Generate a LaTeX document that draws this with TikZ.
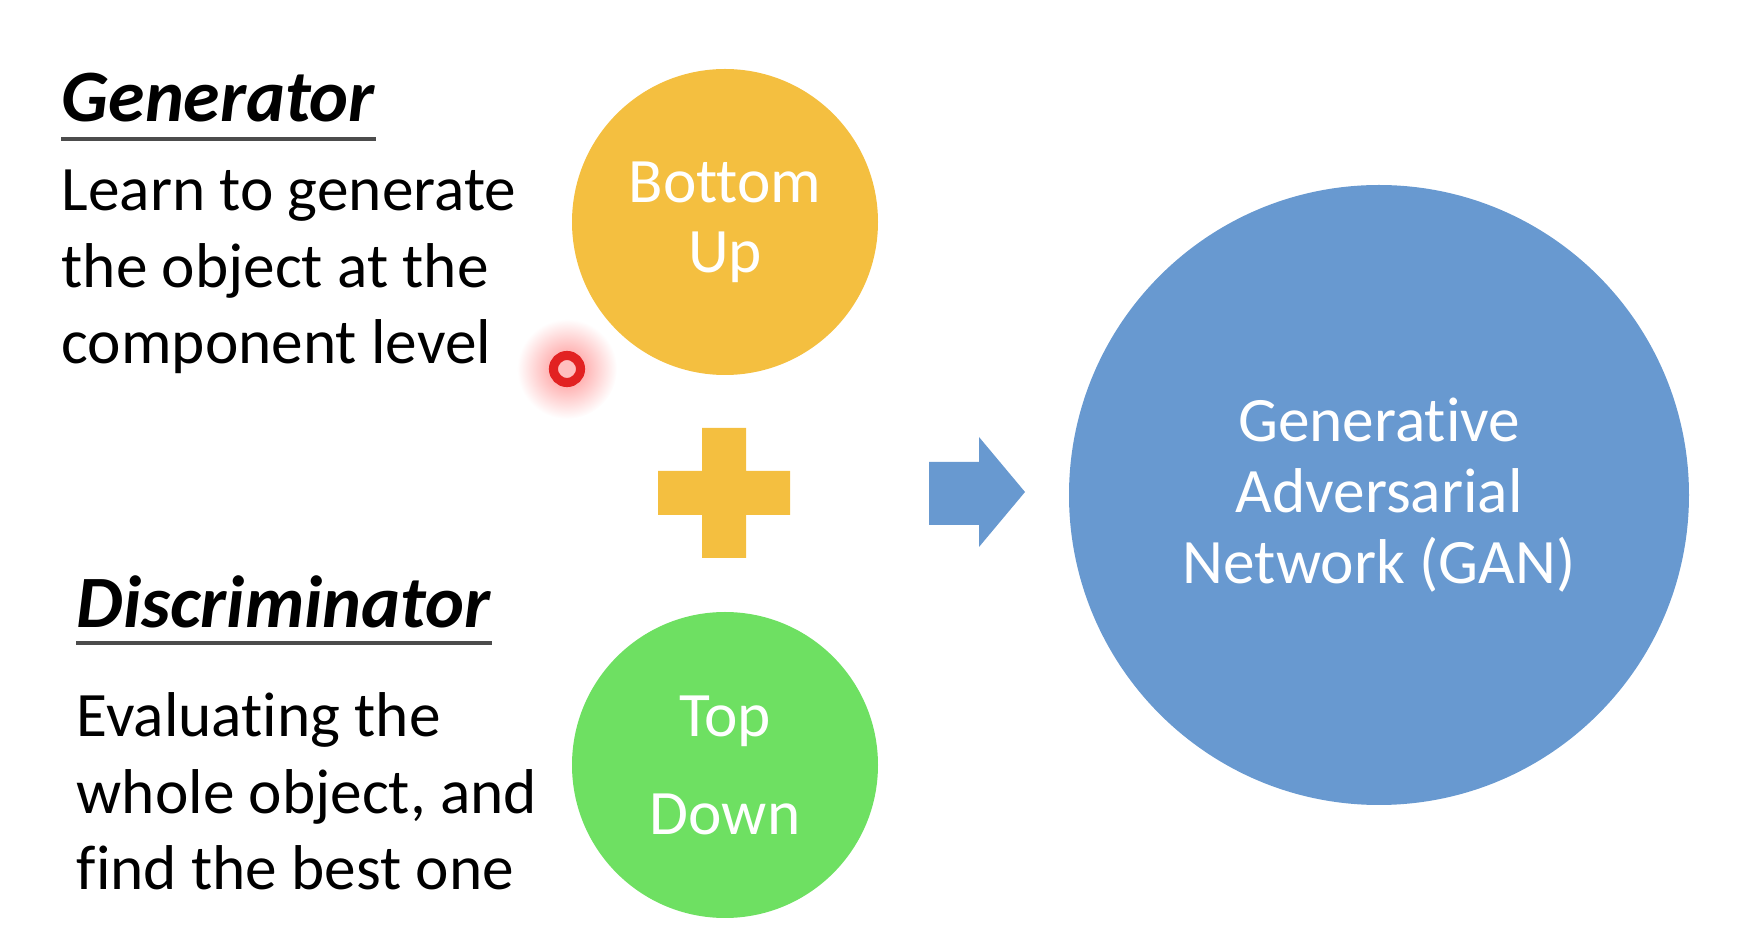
\documentclass[tikz,border=0pt]{standalone}
\usepackage{fontspec}
\setmainfont{Carlito}[Ligatures={NoCommon}]
\usepackage{xcolor}
\usetikzlibrary{positioning,calc}

\definecolor{ganorange}{HTML}{F4BF40}
\definecolor{ganblue}{HTML}{6899D0}
\definecolor{gangreen}{HTML}{6EE062}
\definecolor{pointred}{HTML}{E22222}

\begin{document}
\begin{tikzpicture}[
  x=0.01cm, y=-0.01cm,
  head/.style={inner sep=0pt, anchor=base west, font=\fontsize{21}{25}\selectfont\bfseries\itshape},
  body/.style={inner sep=0pt, anchor=base west, align=left, font=\fontsize{18}{21.8}\selectfont},
  ball/.style={circle, inner sep=0pt, text=white, align=center},
  rule/.style={draw=black!70, line width=1.2pt}
]
\useasboundingbox (0,0) rectangle (1744,952);

% Generator
\node[head] (gen) at (61,122) {Generator};
\draw[rule] (61,139) -- (376,139);
\node[body] (gentxt) at (61,364) {Learn to generate\\the object at the\\component level};

% Discriminator
\node[head] (dis) at (76,628) {Discriminator};
\draw[rule] (76,643) -- (492,643);
\node[body] (distxt) at (76,890) {Evaluating the\\whole object, and\\find the best one};

% Circles
\node[ball, fill=ganorange, minimum size=306*0.01cm,
      font=\fontsize{18}{19.9}\selectfont] (bu) at (725,222) {Bottom\\Up};
\node[ball, fill=gangreen, minimum size=306*0.01cm,
      font=\fontsize{18}{27.9}\selectfont] (td) at (725,765) {Top\\Down};
\node[ball, fill=ganblue, minimum size=620*0.01cm,
      font=\fontsize{18}{20.2}\selectfont] (gan) at (1379,495) {Generative\\Adversarial\\Network (GAN)};

% Plus
\fill[ganorange] (702,428) -- (746,428) -- (746,471) -- (790,471) -- (790,515)
  -- (746,515) -- (746,558) -- (702,558) -- (702,515) -- (658,515)
  -- (658,471) -- (702,471) -- cycle;

% Block arrow
\fill[ganblue] (929,462) -- (979,462) -- (979,437) -- (1025,492)
  -- (979,547) -- (979,525) -- (929,525) -- cycle;

% Pointer
\shade[inner color=red!45, outer color=white] (567,369) circle (50);
\draw[pointred, fill=red!25, line width=2.6pt] (567,369) circle (13.5);

\end{tikzpicture}
\end{document}
